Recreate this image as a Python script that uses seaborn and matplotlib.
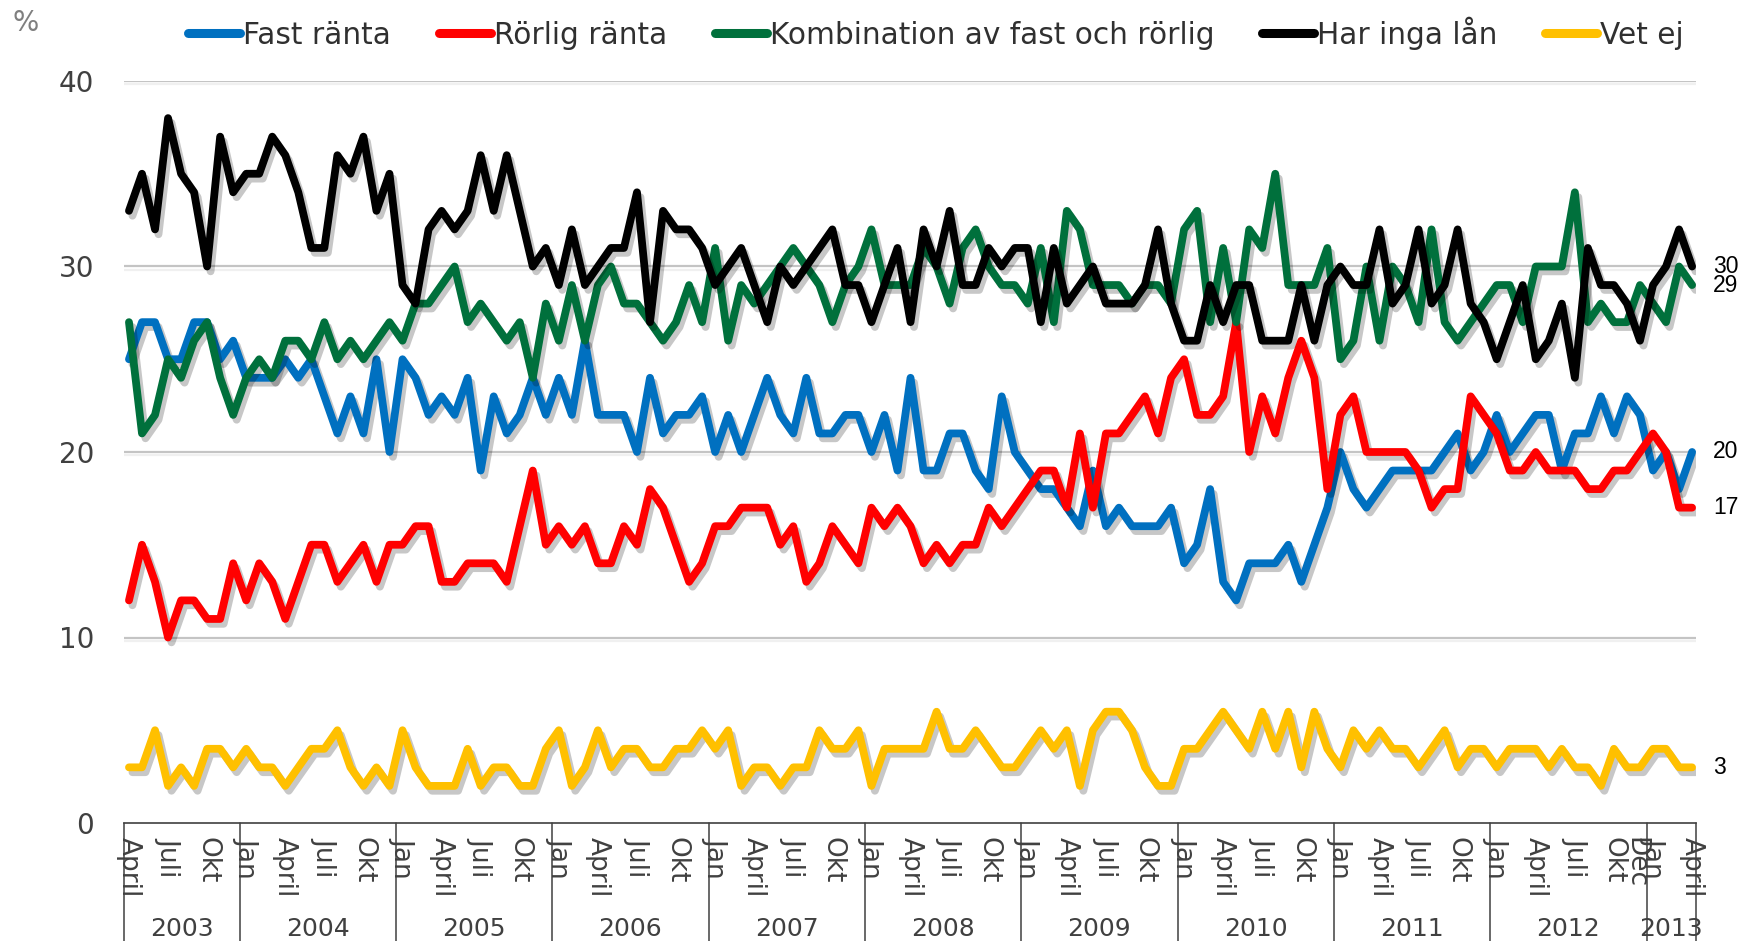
import numpy as np
import pandas as pd
import matplotlib
matplotlib.use("Agg")
import matplotlib.pyplot as plt
import seaborn as sns
from matplotlib import patheffects as pe
from matplotlib.lines import Line2D
from matplotlib.transforms import blended_transform_factory

# ---------------- data ----------------
series_names = ["Fast ränta", "Rörlig ränta", "Kombination av fast och rörlig",
                "Har inga lån", "Vet ej"]
series_colors = ["#0070C0", "#FF0000", "#00703C", "#000000", "#FFC000"]

# Monthly values, April 2003 - April 2013 (121 months)
fast = [25, 27, 27, 25, 25, 27, 27, 25, 26, 24, 24, 24, 25, 24, 25, 23,
        21, 23, 21, 25, 20, 25, 24, 22, 23, 22, 24, 19, 23, 21, 22,
        24, 22, 24, 22, 26, 22, 22, 22, 20, 24, 21, 22, 22, 23, 20,
        22, 20, 22, 24, 22, 21, 24, 21, 21, 22, 22, 20, 22, 19, 24,
        19, 19, 21, 21, 19, 18, 23, 20, 19, 18, 18, 17, 16, 19, 16,
        17, 16, 16, 16, 17, 14, 15, 18, 13, 12, 14, 14, 14, 15, 13,
        15, 17, 20, 18, 17, 18, 19, 19, 19, 19, 20, 21, 19, 20, 22,
        20, 21, 22, 22, 19, 21, 21, 23, 21, 23, 22, 19, 20, 18, 20]
rorlig = [12, 15, 13, 10, 12, 12, 11, 11, 14, 12, 14, 13, 11, 13, 15, 15,
          13, 14, 15, 13, 15, 15, 16, 16, 13, 13, 14, 14, 14, 13, 16,
          19, 15, 16, 15, 16, 14, 14, 16, 15, 18, 17, 15, 13, 14, 16,
          16, 17, 17, 17, 15, 16, 13, 14, 16, 15, 14, 17, 16, 17, 16,
          14, 15, 14, 15, 15, 17, 16, 17, 18, 19, 19, 17, 21, 17, 21,
          21, 22, 23, 21, 24, 25, 22, 22, 23, 27, 20, 23, 21, 24, 26,
          24, 18, 22, 23, 20, 20, 20, 20, 19, 17, 18, 18, 23, 22, 21,
          19, 19, 20, 19, 19, 19, 18, 18, 19, 19, 20, 21, 20, 17, 17]
kombination = [27, 21, 22, 25, 24, 26, 27, 24, 22, 24, 25, 24, 26, 26, 25, 27,
               25, 26, 25, 26, 27, 26, 28, 28, 29, 30, 27, 28, 27, 26, 27,
               24, 28, 26, 29, 26, 29, 30, 28, 28, 27, 26, 27, 29, 27, 31,
               26, 29, 28, 29, 30, 31, 30, 29, 27, 29, 30, 32, 29, 29, 29,
               31, 30, 28, 31, 32, 30, 29, 29, 28, 31, 27, 33, 32, 29, 29,
               29, 28, 29, 29, 28, 32, 33, 27, 31, 27, 32, 31, 35, 29, 29,
               29, 31, 25, 26, 30, 26, 30, 29, 27, 32, 27, 26, 27, 28, 29,
               29, 27, 30, 30, 30, 34, 27, 28, 27, 27, 29, 28, 27, 30, 29]
inga_lan = [33, 35, 32, 38, 35, 34, 30, 37, 34, 35, 35, 37, 36, 34, 31, 31,
            36, 35, 37, 33, 35, 29, 28, 32, 33, 32, 33, 36, 33, 36, 33,
            30, 31, 29, 32, 29, 30, 31, 31, 34, 27, 33, 32, 32, 31, 29,
            30, 31, 29, 27, 30, 29, 30, 31, 32, 29, 29, 27, 29, 31, 27,
            32, 30, 33, 29, 29, 31, 30, 31, 31, 27, 31, 28, 29, 30, 28,
            28, 28, 29, 32, 28, 26, 26, 29, 27, 29, 29, 26, 26, 26, 29,
            26, 29, 30, 29, 29, 32, 28, 29, 32, 28, 29, 32, 28, 27, 25,
            27, 29, 25, 26, 28, 24, 31, 29, 29, 28, 26, 29, 30, 32, 30]
vet_ej = [3, 3, 5, 2, 3, 2, 4, 4, 3, 4, 3, 3, 2, 3, 4, 4,
          5, 3, 2, 3, 2, 5, 3, 2, 2, 2, 4, 2, 3, 3, 2,
          2, 4, 5, 2, 3, 5, 3, 4, 4, 3, 3, 4, 4, 5, 4,
          5, 2, 3, 3, 2, 3, 3, 5, 4, 4, 5, 2, 4, 4, 4,
          4, 6, 4, 4, 5, 4, 3, 3, 4, 5, 4, 5, 2, 5, 6,
          6, 5, 3, 2, 2, 4, 4, 5, 6, 5, 4, 6, 4, 6, 3,
          6, 4, 3, 5, 4, 5, 4, 4, 3, 4, 5, 3, 4, 4, 3,
          4, 4, 4, 3, 4, 3, 3, 2, 4, 3, 3, 4, 4, 3, 3]

month_names = ["Jan", "Feb", "Mars", "April", "Maj", "Juni",
               "Juli", "Aug", "Sep", "Okt", "Nov", "Dec"]
years = [2003, 2004, 2005, 2006, 2007, 2008, 2009, 2010, 2011, 2012, 2013]
start_month = 3  # April (0-based)
extra_label = (2012, "Dec")
y_ticks = [0, 10, 20, 30, 40]

all_series = [fast, rorlig, kombination, inga_lan, vet_ej]
n = len(fast)
for s in all_series:
    assert len(s) == n, len(s)

# month metadata
months = [(start_month + i) % 12 for i in range(n)]
month_year = [years[0] + (start_month + i) // 12 for i in range(n)]

rows = []
for name, vals in zip(series_names, all_series):
    for i, v in enumerate(vals):
        rows.append({"t": i, "v": v, "serie": name})
df = pd.DataFrame(rows)

# ---------------- figure ----------------
sns.set_theme(style="white")
plt.rcParams["font.family"] = ["DejaVu Sans"]

W, H = 1742, 941
fig = plt.figure(figsize=(W / 100, H / 100), dpi=100)
ax = fig.add_axes([123.5 / W, 1 - 823 / H, (1696 - 123.5) / W, (823 - 81) / H])

# gridlines
for yv in y_ticks[1:]:
    ax.axhline(yv, color="#C4C4C4", lw=1.6, zorder=1,
               path_effects=[pe.SimpleLineShadow(offset=(0, -2.5), shadow_color="#000000", alpha=0.06),
                             pe.Normal()])

sns.lineplot(data=df, x="t", y="v", hue="serie", hue_order=series_names,
             palette=series_colors, linewidth=5.6, legend=False, ax=ax,
             sort=False, zorder=3)

for ln in ax.get_lines()[-len(series_names):]:
    ln.set_solid_joinstyle("round")
    ln.set_solid_capstyle("round")
    ln.set_path_effects([pe.SimpleLineShadow(offset=(2.5, -3.5), shadow_color="#000000", alpha=0.22),
                         pe.Normal()])

ax.set_xlim(-0.42, 120.3)
ax.set_ylim(0, 40)
ax.set_xlabel("")
ax.set_ylabel("")

# y axis
ax.set_yticks(y_ticks)
ax.set_yticklabels([str(v) for v in y_ticks])
ax.tick_params(axis="y", length=0, pad=21, labelsize=20, labelcolor="#404040")

# x axis: month labels every 3rd month plus Dec 2012
tick_pos, tick_lab = [], []
for i in range(n):
    if i % 3 == 0:
        tick_pos.append(i)
        tick_lab.append(month_names[months[i]])
    elif (month_year[i], month_names[months[i]]) == extra_label:
        tick_pos.append(i - 0.35)
        tick_lab.append(month_names[months[i]])
ax.set_xticks(tick_pos)
ax.set_xticklabels(tick_lab, rotation=-90, ha="center", va="top")
ax.tick_params(axis="x", length=0, pad=10, labelsize=19, labelcolor="#404040")

for side in ["left", "right", "top"]:
    ax.spines[side].set_visible(False)
ax.spines["bottom"].set_color("#404040")
ax.spines["bottom"].set_linewidth(1.2)
ax.grid(False)

# year groups
trans = blended_transform_factory(ax.transData, ax.transAxes)
xmin, xmax = ax.get_xlim()
bounds = [xmin]
for i in range(1, n):
    if month_year[i] != month_year[i - 1]:
        bounds.append(i - 0.5)
bounds.append(xmax)
for b in bounds:
    ax.plot([b, b], [0, -0.2], transform=trans, color="#404040", lw=1.1,
            clip_on=False, zorder=5)
for k, yr in enumerate(years):
    cx = (bounds[k] + bounds[k + 1]) / 2
    ax.text(cx, -(929 - 823) / (823 - 81), str(yr), transform=trans,
            ha="center", va="center", fontsize=18, color="#404040")

# end labels
for vals in all_series:
    ax.text(121.6, vals[-1], str(vals[-1]), ha="left", va="center",
            fontsize=16.5, color="#000000", family=["Liberation Sans", "DejaVu Sans"],
            clip_on=False)

# % label
fig.text(12 / W, 1 - 23 / H, "%", ha="left", va="center", fontsize=20, color="#7F7F7F")

# legend
handles = [Line2D([0], [0], color=c, lw=6.5, solid_capstyle="round") for c in series_colors]
fig.legend(handles, series_names, loc="center", bbox_to_anchor=(936 / W, 1 - 33 / H),
           ncol=5, frameon=False, fontsize=21.3, handlelength=1.75, handletextpad=0.1,
           columnspacing=1.62, labelcolor="#303030", borderpad=0, borderaxespad=0)

fig.savefig("out.png", dpi=100)
